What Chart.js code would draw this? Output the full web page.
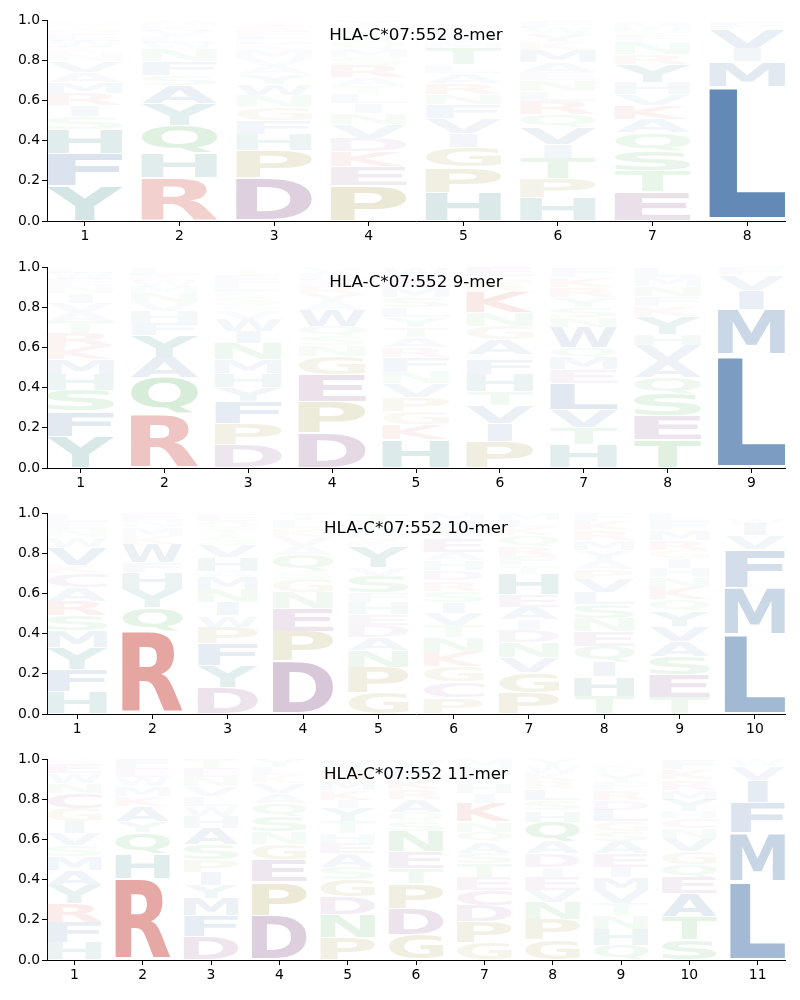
<!DOCTYPE html>
<html><head><meta charset="utf-8">
<script src="https://cdn.jsdelivr.net/npm/chart.js@4.4.0/dist/chart.umd.min.js"></script>
<style>
body{margin:0;background:#fff;width:800px;height:1000px;position:relative;overflow:hidden}
canvas{position:absolute;left:0}
</style></head><body>
<canvas id="c1" width="800" height="246" style="top:0px"></canvas>
<canvas id="c2" width="800" height="246" style="top:247px"></canvas>
<canvas id="c3" width="800" height="246" style="top:493px"></canvas>
<canvas id="c4" width="800" height="246" style="top:739px"></canvas>
<script>
// ---- data: residues per position (bottom to top) and their heights ----
const titles = ["HLA-C*07:552 8-mer","HLA-C*07:552 9-mer","HLA-C*07:552 10-mer","HLA-C*07:552 11-mer"];
const yTicks = [0, 0.2, 0.4, 0.6, 0.8, 1.0];

const mer8Residues = ["YFHSIRMAVNKWEQTG","RHQYASFNWLVKM","DPHFGNWYAVMKLERT","PEKDVNILTARSMQWGY","HPGIVFNRALTMYWSK","HPTIVQRLNEAMKYWF","ETSQAKVHYRNFPMW","LMIVF"];
const mer8Heights = [
 [.175,.16,.12,.065,.055,.06,.055,.05,.055,.04,.03,.03,.03,.03,.02,.02],
 [.216,.12,.14,.107,.09,.05,.07,.06,.03,.03,.03,.025,.025],
 [.216,.135,.08,.07,.066,.058,.056,.05,.04,.04,.04,.03,.03,.03,.03,.02],
 [.175,.095,.075,.065,.07,.055,.05,.048,.04,.04,.06,.04,.04,.04,.04,.03,.03],
 [.142,.125,.1,.07,.075,.07,.05,.055,.05,.04,.08,.03,.03,.03,.02,.02],
 [.116,.096,.1,.07,.084,.065,.065,.05,.055,.04,.05,.058,.04,.04,.03,.03],
 [.144,.105,.1,.09,.065,.07,.055,.06,.09,.05,.06,.03,.03,.03,.015],
 [.67,.124,.065,.095,.035]
];
const mer9Residues = ["YFSHMKRTAVINEWL","RQAYFHVNMWKL","DPFYHMNIWVQSKLET","DPEGNSQWAYRKLV","HKGPVNFRATYLSMEW","PIVTHFLAGNKRSE","HTVLEMQWNSYRKF","TESQAVHYKFNML","LMIVF"];
const mer9Heights = [
 [.157,.125,.105,.078,.075,.065,.065,.06,.045,.045,.05,.04,.03,.03,.027],
 [.27,.18,.1,.11,.06,.06,.045,.045,.03,.03,.03,.035],
 [.115,.105,.11,.07,.07,.07,.08,.06,.06,.04,.03,.04,.03,.04,.04,.03],
 [.175,.155,.135,.09,.053,.047,.05,.08,.04,.04,.04,.03,.03,.03],
 [.14,.075,.065,.07,.07,.06,.07,.05,.05,.05,.05,.05,.05,.05,.05,.045],
 [.13,.09,.09,.07,.085,.075,.025,.075,.067,.066,.1,.04,.04,.045],
 [.115,.085,.09,.13,.07,.06,.05,.1,.05,.05,.05,.05,.05,.045],
 [.14,.12,.11,.08,.08,.08,.055,.09,.05,.05,.05,.045,.045],
 [.565,.225,.095,.072,.04]
];
const mer10Residues = ["HFYMSRACKVWNEL","RQYHFWKMNE","DYFPWINMAHVSTQE","DPENGSQAVKLT","GPNADEHFSVYKQWT","PCGKNTVISRDHAEYWM","PGVNDIAEHTFRQKLM","THIQENSLVPAYMRKF","TESAVYQKNHIGRMFL","LMFVIW"];
const mer10Heights = [
 [.11,.11,.11,.083,.077,.073,.067,.07,.04,.09,.05,.04,.04,.035],
 [.413,.117,.092,.083,.05,.092,.04,.04,.035,.035],
 [.13,.11,.11,.083,.057,.065,.067,.058,.03,.07,.06,.04,.04,.04,.035],
 [.263,.147,.117,.078,.067,.04,.078,.046,.046,.04,.04,.035],
 [.105,.128,.084,.063,.06,.057,.058,.05,.083,.042,.1,.03,.04,.05,.045],
 [.08,.08,.077,.071,.072,.06,.06,.055,.058,.05,.05,.05,.042,.067,.04,.045,.04],
 [.105,.1,.075,.075,.062,.053,.063,.06,.104,.041,.045,.047,.058,.04,.035,.035],
 [.088,.097,.075,.078,.072,.067,.07,.058,.067,.05,.045,.046,.05,.05,.045,.04],
 [.083,.114,.091,.075,.075,.075,.059,.058,.05,.045,.047,.041,.05,.05,.045,.04],
 [.397,.23,.19,.07,.058,.027]
];
const mer11Residues = ["HFRYAMSVIGCNWEK","RHQYAKMWEF","DFMYIPSAHWLVNET","DPEGNSQAVKLY","PNDGSAEHTYIKMRV","GDPTENSQARKFV","GPDCETSAQNKIHYVM","GPNVEIDAQHSLRKWY","QHNTVMIEASGLDRFYWK","STAEQGVNCHYMRKF","LMFIVW"];
const mer11Heights = [
 [.088,.1,.092,.092,.075,.066,.059,.058,.058,.067,.075,.05,.05,.05,.02],
 [.405,.125,.103,.057,.073,.05,.05,.045,.045,.047],
 [.117,.103,.085,.067,.066,.062,.075,.08,.058,.05,.05,.05,.045,.045,.047],
 [.222,.166,.109,.08,.061,.075,.067,.05,.05,.04,.04,.04],
 [.113,.114,.086,.087,.063,.067,.053,.047,.058,.067,.042,.05,.05,.05,.05],
 [.128,.129,.123,.075,.083,.1,.05,.047,.063,.05,.05,.05,.05],
 [.085,.105,.08,.077,.066,.067,.053,.055,.05,.05,.092,.05,.05,.04,.04,.04],
 [.1,.1,.088,.059,.066,.05,.067,.058,.099,.056,.05,.057,.04,.04,.035,.035],
 [.075,.078,.067,.06,.067,.063,.053,.067,.058,.05,.05,.059,.05,.05,.04,.04,.025,.025],
 [.1,.117,.113,.08,.067,.063,.065,.05,.05,.033,.059,.05,.05,.05,.05],
 [.392,.24,.15,.11,.07,.03]
];

// ---- styles ----
const groupColor = {
  A:[76,120,171],F:[76,120,171],I:[76,120,171],L:[76,120,171],M:[76,120,171],V:[76,120,171],W:[76,120,171],
  H:[60,140,135],Y:[60,140,135],
  K:[207,90,81],R:[207,90,81],
  D:[141,88,144],E:[141,88,144],C:[165,95,150],
  P:[165,155,70],G:[165,155,70],
  N:[85,180,95],Q:[85,180,95],S:[85,180,95],T:[85,180,95]
};
const FONT = '"DejaVu Sans", "Liberation Sans", sans-serif';

const glyphCache = {};
function glyph(ch){
  if (glyphCache[ch]) return glyphCache[ch];
  const c = document.createElement('canvas').getContext('2d');
  c.font = 'bold 200px ' + FONT;
  const m = c.measureText(ch);
  const g = {l:m.actualBoundingBoxLeft, r:m.actualBoundingBoxRight, a:m.actualBoundingBoxAscent, d:m.actualBoundingBoxDescent};
  g.w = g.l + g.r; g.h = g.a + g.d;
  glyphCache[ch] = g; return g;
}
function alphaFor(h){
  return Math.min(0.9, 1.3 * h * Math.min(1, Math.sqrt(h / 0.1)));
}

const logoPlugin = {
  id:'logo',
  afterDatasetsDraw(chart){
    const ctx = chart.ctx;
    const meta = chart.getDatasetMeta(0);
    const ds = chart.data.datasets[0].data;
    const gE = glyph('E');
    ctx.save();
    meta.data.forEach((el, i) => {
      const d = ds[i];
      const top = Math.min(el.y, el.base), bot = Math.max(el.y, el.base);
      const H = bot - top; if (H < 0.6) return;
      const W = el.width;
      const g = glyph(d.ch);
      const pad = 0.025 * H;
      const gh = H - 2*pad;
      const gw = W * Math.min(1, g.w / gE.w);
      const x0 = el.x - gw/2;
      const alpha = alphaFor(d.y[1] - d.y[0]);
      const col = groupColor[d.ch] || [128,128,128];
      ctx.save();
      ctx.translate(x0, top + pad);
      ctx.scale(gw / g.w, gh / g.h);
      ctx.font = 'bold 200px ' + FONT;
      ctx.textAlign = 'left'; ctx.textBaseline = 'alphabetic';
      ctx.fillStyle = `rgba(${col[0]},${col[1]},${col[2]},${alpha})`;
      ctx.fillText(d.ch, g.l, g.a);
      ctx.restore();
    });
    ctx.restore();
    // title inside plot
    const a = chart.chartArea;
    ctx.save();
    ctx.font = '16.7px ' + FONT;
    ctx.fillStyle = '#000';
    ctx.textAlign = 'center'; ctx.textBaseline = 'middle';
    ctx.fillText(chart.options.plugins.logoTitle, (a.left + a.right)/2, a.top + 16);
    ctx.restore();
  }
};

function makePanel(id, title, residues, heights){
  const n = residues.length;
  const positions = residues.map((_, i) => i + 1);
  const labels = positions.map(String);
  const data = [];
  residues.forEach((col, i) => {
    let base = 0;
    col.split('').forEach((ch, j) => {
      const h = heights[i][j];
      data.push({x: positions[i], y: [base, base + h], ch});
      base += h;
    });
  });
  const tickFont = {family: FONT, size: 13.9};
  new Chart(document.getElementById(id), {
    type: 'bar',
    data: {datasets: [{data, backgroundColor:'rgba(0,0,0,0)', borderWidth:0,
      categoryPercentage:0.8, barPercentage:1.0, grouped:false}]},
    options: {
      responsive:false, animation:false, devicePixelRatio:1,
      layout:{padding:{top:20, right:15, left:0, bottom:0}},
      plugins:{legend:{display:false}, tooltip:{enabled:false}, logoTitle: title},
      scales:{
        x:{type:'linear', min:0.6, max:n+0.4, offset:false,
          afterBuildTicks: s => { s.ticks = positions.map(v => ({value:v})); },
          afterFit: s => { s.height = 25; },
          grid:{display:true, offset:false, drawOnChartArea:false, drawTicks:true, tickLength:5, color:'#000', lineWidth:1},
          border:{display:true, color:'#000', width:1},
          ticks:{color:'#000', font:tickFont, padding:2, autoSkip:false, maxRotation:0,
            callback:(v, i) => labels[i]}
        },
        y:{min:0, max:1,
          afterBuildTicks: s => { s.ticks = yTicks.map(v => ({value:v})); },
          afterFit: s => { s.width = 47; },
          grid:{display:true, offset:false, drawOnChartArea:false, drawTicks:true, tickLength:5, color:'#000', lineWidth:1},
          border:{display:true, color:'#000', width:1},
          ticks:{color:'#000', font:tickFont, padding:2, callback:v => v.toFixed(1)}
        }
      }
    },
    plugins:[logoPlugin]
  });
}

makePanel('c1', titles[0], mer8Residues, mer8Heights);
makePanel('c2', titles[1], mer9Residues, mer9Heights);
makePanel('c3', titles[2], mer10Residues, mer10Heights);
makePanel('c4', titles[3], mer11Residues, mer11Heights);
</script>
</body></html>
